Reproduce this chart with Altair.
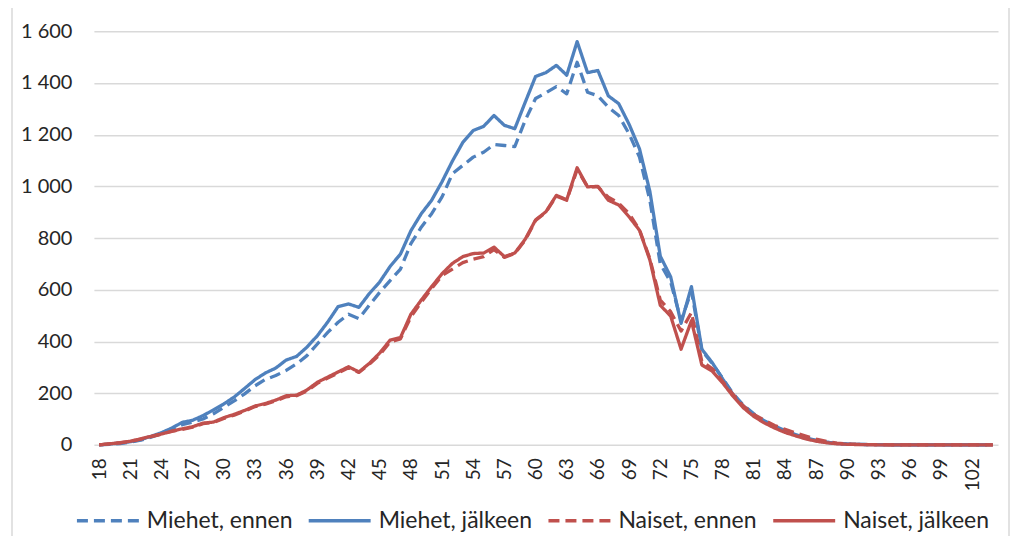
import altair as alt
import pandas as pd

ages = list(range(18, 105))

miehet_ennen = [
    0, 2, 5, 10, 18, 30, 43, 60, 78, 88,            # 18-27
    100, 120, 145, 170, 197, 228, 253, 268, 288, 313,  # 28-37
    345, 390, 435, 474, 505, 488, 540, 590, 635, 680,  # 38-47
    778, 842, 894, 959, 1049, 1081, 1113, 1132, 1162, 1158,  # 48-57
    1154, 1255, 1340, 1362, 1386, 1358, 1480, 1364, 1350, 1306,  # 58-67
    1274, 1203, 1113, 946, 700, 630, 480, 595, 365, 315,  # 68-77
    258, 198, 153, 120, 93, 73, 55, 40, 27, 17,  # 78-87
    10, 5, 3, 2, 1, 1, 0, 0, 0, 0,  # 88-97
    0, 0, 0, 0, 0, 0, 0,  # 98-104
]
miehet_jalkeen = [
    0, 3, 7, 12, 20, 33, 47, 65, 87, 95,
    113, 135, 158, 185, 218, 252, 278, 297, 328, 342,
    378, 422, 475, 535, 545, 532, 585, 630, 690, 738,
    828, 894, 946, 1018, 1098, 1170, 1216, 1232, 1274, 1236,
    1223, 1325, 1425, 1440, 1468, 1430, 1560, 1440, 1448, 1350,
    1320, 1240, 1145, 980, 730, 650, 470, 612, 370, 318,
    255, 195, 150, 116, 90, 70, 52, 38, 25, 16,
    10, 5, 3, 2, 1, 1, 0, 0, 0, 0,
    0, 0, 0, 0, 0, 0, 0,
]
naiset_ennen = [
    0, 4, 8, 13, 22, 32, 41, 52, 60, 68,
    82, 86, 102, 115, 130, 148, 157, 170, 186, 190,
    208, 238, 258, 278, 298, 280, 312, 348, 398, 410,
    495, 552, 605, 655, 680, 705, 718, 728, 755, 725,
    740, 792, 868, 900, 962, 946, 1065, 998, 998, 958,
    935, 895, 832, 720, 560, 515, 440, 512, 322, 295,
    245, 195, 150, 118, 95, 75, 60, 46, 34, 22,
    13, 7, 3, 2, 1, 1, 0, 0, 0, 0,
    0, 0, 0, 0, 0, 0, 0,
]
naiset_jalkeen = [
    0, 4, 8, 14, 23, 33, 42, 53, 62, 70,
    84, 88, 105, 118, 133, 150, 160, 173, 190, 192,
    212, 242, 262, 282, 302, 282, 315, 355, 405, 415,
    505, 560, 612, 662, 702, 728, 740, 742, 765, 728,
    742, 795, 870, 902, 965, 948, 1072, 998, 1000, 946,
    928, 882, 830, 715, 540, 498, 370, 480, 309, 285,
    240, 188, 143, 110, 85, 65, 48, 35, 23, 14,
    8, 4, 2, 1, 1, 0, 0, 0, 0, 0,
    0, 0, 0, 0, 0, 0, 0,
]

series_names = ["Miehet, ennen", "Miehet, jälkeen", "Naiset, ennen", "Naiset, jälkeen"]
series_colors = ["#4f81bd", "#4f81bd", "#c0504d", "#c0504d"]
series_dashes = [[11, 6], [1, 0], [11, 6], [1, 0]]
x_tick_values = list(range(18, 103, 3))
y_tick_values = list(range(0, 1601, 200))

rows = []
for order, (name, vals) in enumerate(zip(series_names,
                                         [miehet_ennen, miehet_jalkeen, naiset_ennen, naiset_jalkeen])):
    for a, v in zip(ages, vals):
        rows.append({"ika": a, "arvo": v, "sarja": name, "jarjestys": order})
df = pd.DataFrame(rows)

FONT = "Lato"
TEXT = "#262626"

lines = alt.Chart(df).mark_line(strokeWidth=3.3, strokeJoin="round").encode(
    x=alt.X("ika:Q",
            scale=alt.Scale(domain=[17.5, 104.5], nice=False, zero=False),
            axis=alt.Axis(values=x_tick_values, labelAngle=270, title=None, grid=False,
                          domain=False, ticks=False, labelFontSize=19, labelColor=TEXT,
                          labelPadding=13, labelFont=FONT)),
    y=alt.Y("arvo:Q",
            scale=alt.Scale(domain=[0, 1600], nice=False),
            axis=alt.Axis(values=y_tick_values,
                          labelExpr="replace(format(datum.value, ','), ',', ' ')",
                          title=None, domain=False, ticks=False, gridColor="#d9d9d9",
                          gridWidth=1.5, labelFontSize=20, labelColor=TEXT,
                          labelPadding=22, labelFont=FONT)),
    color=alt.Color("sarja:N", scale=alt.Scale(domain=series_names, range=series_colors),
                    legend=alt.Legend(title=None)),
    strokeDash=alt.StrokeDash("sarja:N", scale=alt.Scale(domain=series_names, range=series_dashes),
                              legend=alt.Legend(title=None)),
    order=alt.Order("jarjestys:Q"),
)

frame = alt.Chart(pd.DataFrame({"k": [0]})).mark_rect(
    fill="transparent", stroke="#d9d9d9", strokeWidth=1.5
).encode(x=alt.value(-82), x2=alt.value(916), y=alt.value(-24), y2=alt.value(530))

chart = alt.layer(frame, lines).properties(
    width=905, height=414,
    autosize=alt.AutoSizeParams(type="none"),
    padding={"left": 86, "top": 23, "right": 15, "bottom": 91},
).configure_view(stroke=None).configure_legend(
    orient="none", legendX=-19, legendY=457, direction="horizontal",
    symbolType="stroke", symbolSize=3844, symbolStrokeWidth=3.3,
    labelFontSize=23, labelFont=FONT, labelColor=TEXT, labelOffset=6,
    columnPadding=9, labelLimit=300,
)

chart.save("out.html", embed_options={"renderer": "svg", "actions": False})
